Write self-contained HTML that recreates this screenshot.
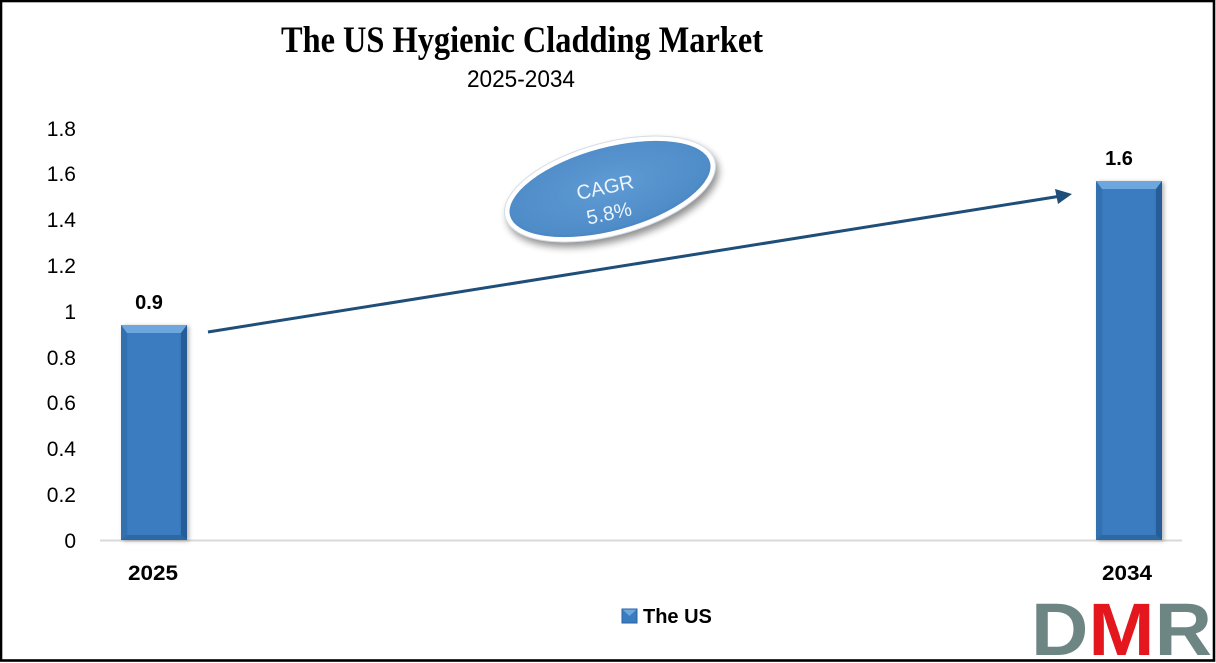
<!DOCTYPE html>
<html><head><meta charset="utf-8"><style>
html,body{margin:0;padding:0;background:#fff;}
svg{display:block;}
</style></head><body>
<svg width="1216" height="663" viewBox="0 0 1216 663" xmlns="http://www.w3.org/2000/svg">
<defs>
<linearGradient id="barg" x1="0" y1="0" x2="1" y2="0">
<stop offset="0" stop-color="#2d69aa"/><stop offset="0.12" stop-color="#3a7cc0"/><stop offset="0.88" stop-color="#3a7cc0"/><stop offset="1" stop-color="#2a62a0"/>
</linearGradient>
<radialGradient id="ellg" cx="0.5" cy="0.45" r="0.6">
<stop offset="0" stop-color="#5f9bd4"/><stop offset="0.8" stop-color="#4f8cc8"/><stop offset="1" stop-color="#3f78b6"/>
</radialGradient>
<filter id="sh" x="-20%" y="-30%" width="140%" height="170%">
<feGaussianBlur in="SourceAlpha" stdDeviation="4"/><feOffset dx="3" dy="5"/>
<feComponentTransfer><feFuncA type="linear" slope="0.45"/></feComponentTransfer>
<feMerge><feMergeNode/><feMergeNode in="SourceGraphic"/></feMerge>
</filter>
<filter id="bsh" x="-20%" y="-5%" width="140%" height="110%">
<feGaussianBlur in="SourceAlpha" stdDeviation="2"/><feOffset dx="2" dy="1"/>
<feComponentTransfer><feFuncA type="linear" slope="0.3"/></feComponentTransfer>
<feMerge><feMergeNode/><feMergeNode in="SourceGraphic"/></feMerge>
</filter>
</defs>
<rect x="0" y="0" width="1216" height="663" fill="#fff"/>
<rect x="1" y="1" width="1213" height="659.5" fill="none" stroke="#000" stroke-width="2.6"/>

<text x="522" y="52" font-family="Liberation Serif, serif" font-weight="bold" font-size="37" text-anchor="middle" textLength="482" lengthAdjust="spacingAndGlyphs">The US Hygienic Cladding Market</text>
<text x="521" y="87" font-family="Liberation Sans, sans-serif" font-size="24" text-anchor="middle" textLength="108" lengthAdjust="spacingAndGlyphs">2025-2034</text>

<g font-family="Liberation Sans, sans-serif" font-size="21" text-anchor="end" fill="#000">
<text x="76" y="136">1.8</text>
<text x="76" y="181">1.6</text>
<text x="76" y="227">1.4</text>
<text x="76" y="273">1.2</text>
<text x="76" y="319">1</text>
<text x="76" y="365">0.8</text>
<text x="76" y="410">0.6</text>
<text x="76" y="456">0.4</text>
<text x="76" y="502">0.2</text>
<text x="76" y="548">0</text>
</g>

<line x1="100" y1="540.5" x2="1182" y2="540.5" stroke="#d9d9d9" stroke-width="2"/>

<g filter="url(#bsh)">
<rect x="121" y="325" width="66" height="215" fill="url(#barg)"/>
<polygon points="121,325 187,325 181,333 127,333" fill="#6ea7dd"/>
<polygon points="121,325 127,333 127,535 121,540" fill="#3070b0"/>
<polygon points="187,325 181,333 181,535 187,540" fill="#265d98"/>
<polygon points="121,540 127,535 181,535 187,540" fill="#2e67a3"/>
</g>
<g filter="url(#bsh)">
<rect x="1096" y="181" width="66" height="359" fill="url(#barg)"/>
<polygon points="1096,181 1162,181 1156,189 1102,189" fill="#6ea7dd"/>
<polygon points="1096,181 1102,189 1102,535 1096,540" fill="#3070b0"/>
<polygon points="1162,181 1156,189 1156,535 1162,540" fill="#265d98"/>
<polygon points="1096,540 1102,535 1156,535 1162,540" fill="#2e67a3"/>
</g>

<g font-family="Liberation Sans, sans-serif" font-weight="bold" font-size="20" text-anchor="middle" fill="#000">
<text x="149" y="309">0.9</text>
<text x="1119" y="165">1.6</text>
</g>
<g font-family="Liberation Sans, sans-serif" font-weight="bold" font-size="21" text-anchor="middle" fill="#000">
<text x="153" y="580" textLength="50" lengthAdjust="spacingAndGlyphs">2025</text>
<text x="1127" y="580" textLength="50" lengthAdjust="spacingAndGlyphs">2034</text>
</g>

<line x1="208" y1="332" x2="1058" y2="196.5" stroke="#1f4e79" stroke-width="3"/>
<polygon points="1072,194 1055,189 1058,204" fill="#1f4e79"/>

<g filter="url(#sh)">
<ellipse cx="610" cy="189" rx="106" ry="44" transform="rotate(-15 610 189)" fill="url(#ellg)" stroke="#fff" stroke-width="5"/>
</g>
<ellipse cx="610" cy="189" rx="108.5" ry="46.5" transform="rotate(-15 610 189)" fill="none" stroke="#d5dde6" stroke-width="1"/>
<g font-family="Liberation Sans, sans-serif" font-size="20" fill="#eef4fb" text-anchor="middle">
<text x="605" y="194" transform="rotate(-12 605 187)">CAGR</text>
<text x="609" y="220" transform="rotate(-12 609 213)">5.8%</text>
</g>

<rect x="622" y="609" width="15" height="14" fill="#3a7cc0"/>
<polygon points="622,609 637,609 629.5,616" fill="#6ea7dd"/>
<rect x="622" y="609" width="15" height="14" fill="none" stroke="#2a62a0" stroke-width="1"/>
<text x="643" y="623" font-family="Liberation Sans, sans-serif" font-weight="bold" font-size="20" fill="#000">The US</text>

<text x="1031" y="655" font-family="Liberation Sans, sans-serif" font-weight="bold" font-size="74" textLength="181" lengthAdjust="spacingAndGlyphs"><tspan fill="#6e8683">D</tspan><tspan fill="#e3171d">M</tspan><tspan fill="#6e8683">R</tspan></text>
</svg>
</body></html>
